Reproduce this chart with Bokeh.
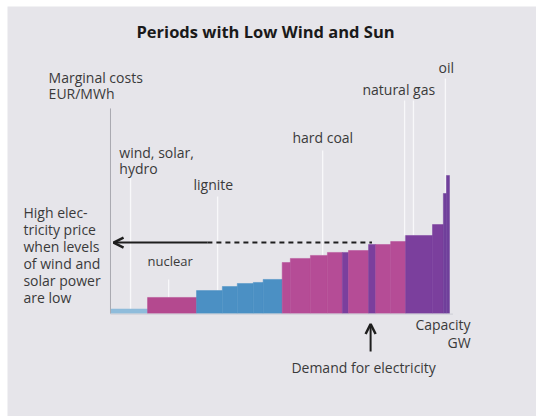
import numpy as np
from bokeh.plotting import figure
from bokeh.models import ColumnDataSource, Arrow, OpenHead
from bokeh.core.properties import value
from bokeh.embed import file_html
from bokeh.resources import INLINE

# ---- data: merit order (capacity in GW, marginal cost in EUR/MWh) ----
unit_fuel = ["renewables", "nuclear",
             "lignite", "lignite", "lignite", "lignite", "lignite",
             "hard coal", "hard coal", "hard coal", "hard coal",
             "natural gas", "hard coal", "natural gas", "hard coal", "hard coal",
             "natural gas", "natural gas", "oil", "oil"]
unit_capacity = [10.9, 14.4,
                 7.6, 4.4, 4.7, 2.9, 5.6,
                 2.4, 5.9, 5.0, 4.4,
                 1.8, 5.9, 2.1, 4.4, 4.4,
                 7.9, 3.2, 0.9, 0.9]
unit_cost = [3.0, 10.7,
             15.3, 18.0, 20.0, 20.7, 22.7,
             34.0, 36.7, 38.7, 40.7,
             40.7, 42.0, 46.0, 46.0, 48.0,
             52.0, 59.3, 80.0, 92.0]
demand_gw = 76.5
clearing_price = 47.3

fuel_color = {"renewables": "#8fbcdb", "nuclear": "#b4498f", "lignite": "#4b90c4",
              "hard coal": "#b54c96", "natural gas": "#7b3f9d", "oil": "#70409b"}

right = np.cumsum(unit_capacity)
left = right - np.array(unit_capacity)
src = ColumnDataSource(dict(left=left, right=right, top=unit_cost,
                            color=[fuel_color[f] for f in unit_fuel]))

BG = "#e6e5ea"
TXT = "#3a3a3a"
FONT = value("Open Sans")
DY = 4.0  # text baseline correction (data units)

p = figure(width=536, height=416, x_range=(-30.29, 125.29), y_range=(-68.67, 204.67),
           x_axis_type=None, y_axis_type=None, toolbar_location=None,
           output_backend="svg", min_border=0, min_border_left=7, min_border_top=6)
p.background_fill_color = BG
p.border_fill_color = "white"
p.outline_line_color = None
p.grid.visible = False

# leader lines (behind bars)
leaders = [(5.9, 3.0, 91.3), (17.1, 10.7, 22.7), (31.5, 15.3, 78.0),
           (62.4, 38.7, 108.7), (86.5, 52.0, 142.0), (89.1, 52.0, 142.0),
           (98.5, 80.0, 156.7)]
p.segment(x0=[l[0] for l in leaders], y0=[l[1] for l in leaders],
          x1=[l[0] for l in leaders], y1=[l[2] for l in leaders],
          line_color="#f8f8fa", line_width=1.3)

# bars
p.quad(left="left", right="right", bottom=0, top="top", source=src,
       fill_color="color", line_color="color", line_width=0.5)

# axes lines
p.segment(x0=[0], y0=[0], x1=[0], y1=[136.7], line_color="#a9a9b1", line_width=1)
p.segment(x0=[0], y0=[-0.4], x1=[right[-1] + 1], y1=[-0.4], line_color="#d0d1d8", line_width=1.2)

# price arrow: solid with head, dashed continuation
p.add_layout(Arrow(end=OpenHead(size=10, line_width=2.5, line_color="#1e1e1e"),
                   x_start=28.5, y_start=clearing_price, x_end=0.9, y_end=clearing_price,
                   line_color="#1e1e1e", line_width=2))
p.line(x=[28.5, demand_gw + 0.4], y=[clearing_price, clearing_price],
       line_color="#1e1e1e", line_width=2, line_dash="5 4")

# demand arrow
p.add_layout(Arrow(end=OpenHead(size=10, line_width=2.5, line_color="#1e1e1e"),
                   x_start=demand_gw, y_start=-25.3, x_end=demand_gw, y_end=-7.0,
                   line_color="#1e1e1e", line_width=2))

# title
p.text(x=[45.6], y=[182.7 + DY + 1], text=["Periods with Low Wind and Sun"], text_font=FONT,
       text_font_style="bold", text_font_size="16.5px", text_align="center",
       text_baseline="alphabetic", text_color="#1a1a1a")

labels = [("Marginal costs", -18.2, 153.3), ("EUR/MWh", -18.2, 142.7),
          ("wind, solar,", 2.6, 103.3), ("hydro", 2.6, 93.0),
          ("lignite", 24.4, 82.0), ("hard coal", 53.5, 113.3),
          ("natural gas", 74.1, 145.3), ("oil", 96.5, 160.0),
          ("High elec-", -25.6, 63.3), ("tricity price", -25.6, 52.0),
          ("when levels", -25.6, 40.7), ("of wind and", -25.6, 29.3),
          ("solar power", -25.6, 18.0), ("are low", -25.6, 6.7),
          ("Demand for electricity", 53.2, -40.0)]
p.text(x=[l[1] for l in labels], y=[l[2] + DY for l in labels], text=[l[0] for l in labels],
       text_font=FONT, text_font_size="14px", text_align="left",
       text_baseline="alphabetic", text_color=TXT)

p.text(x=[10.9], y=[30.7 + DY], text=["nuclear"], text_font=FONT, text_font_size="13px",
       text_align="left", text_baseline="alphabetic", text_color=TXT)

p.text(x=[105.9, 105.9], y=[-11.3 + DY, -23.3 + DY], text=["Capacity", "GW"], text_font=FONT,
       text_font_size="14px", text_align="right", text_baseline="alphabetic", text_color=TXT)

open("out.html", "w").write(file_html(p, INLINE))
